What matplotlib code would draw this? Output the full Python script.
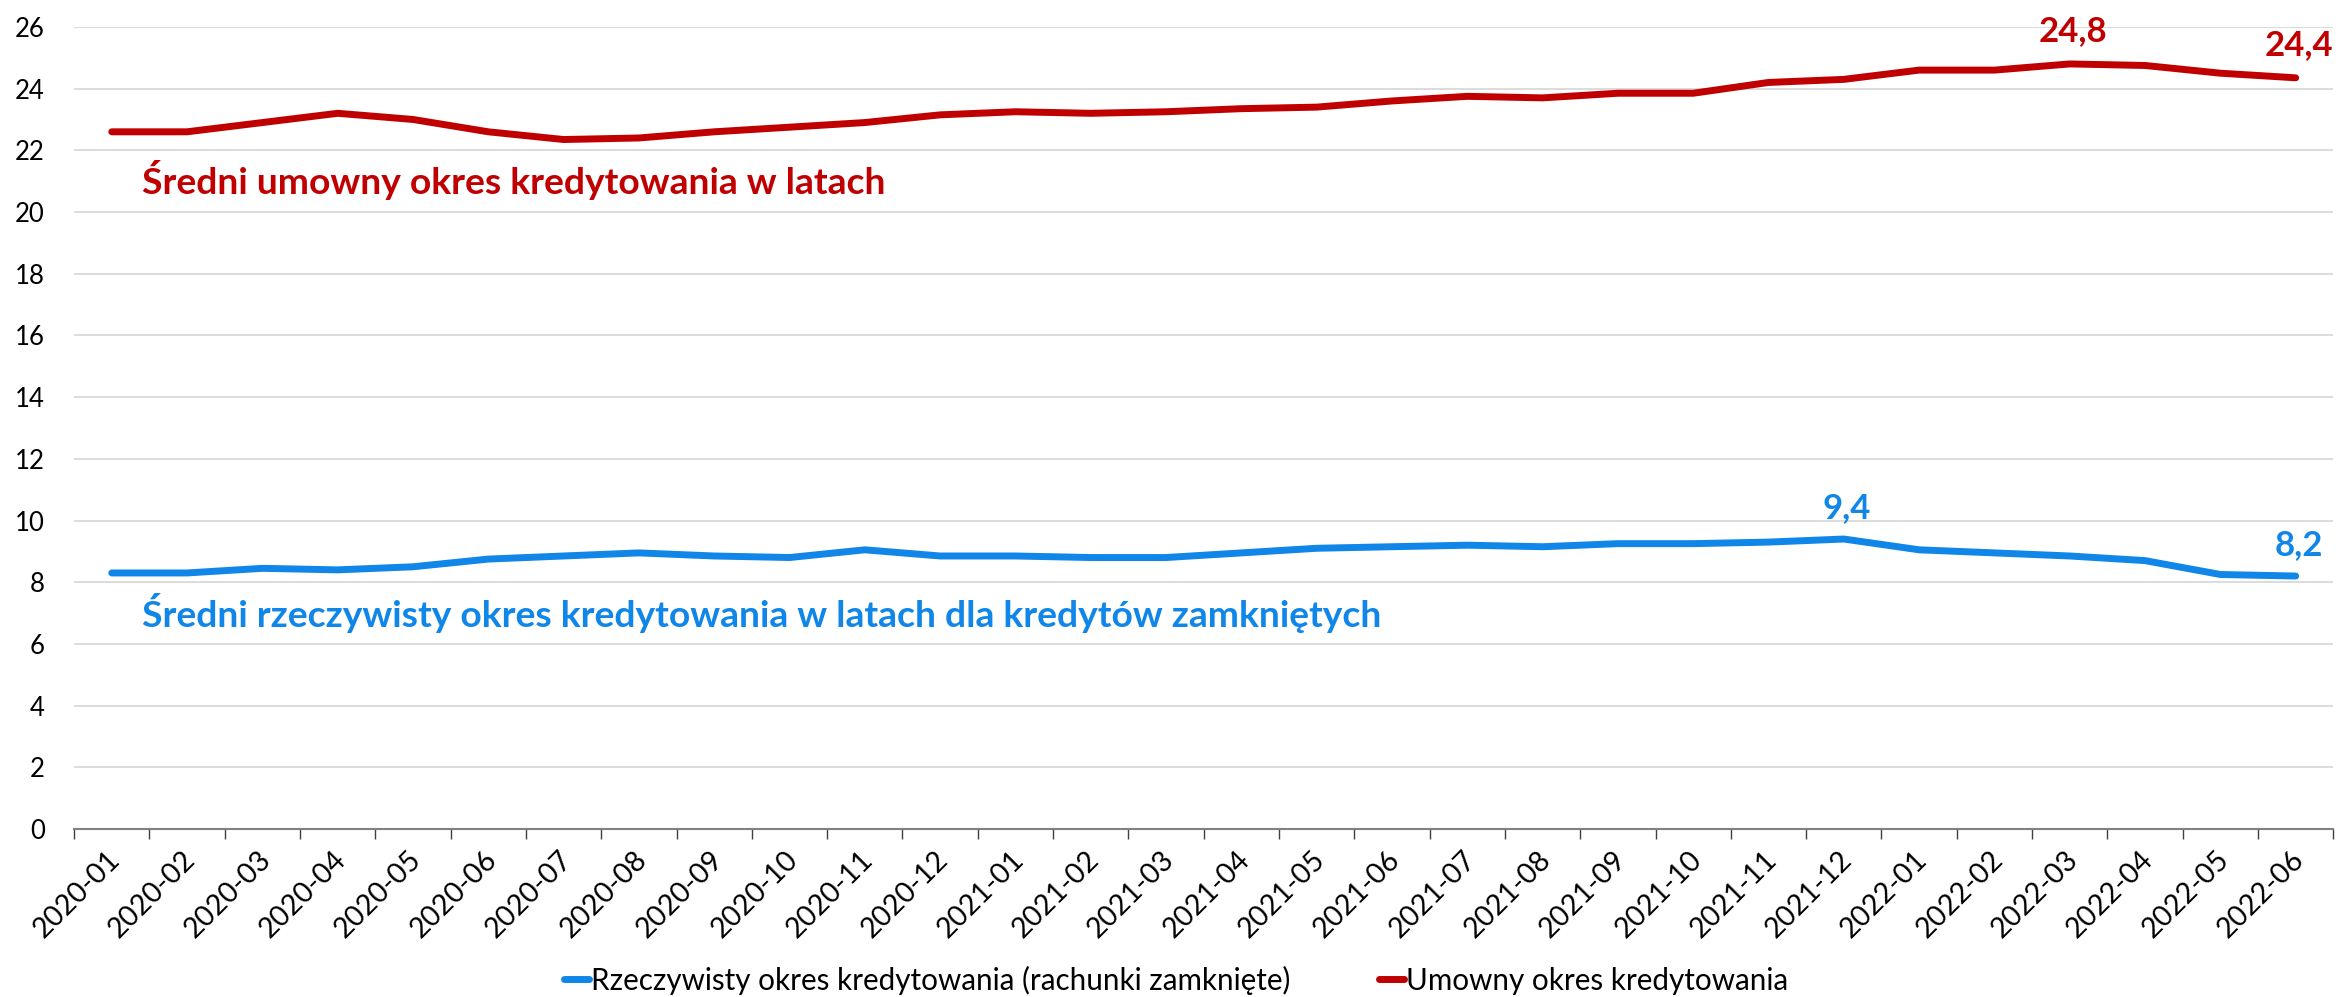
import matplotlib
matplotlib.use("Agg")
import matplotlib.pyplot as plt
import matplotlib.transforms as mtransforms
from matplotlib.ticker import FixedLocator, MultipleLocator

plt.rcParams['font.family'] = ['Lato', 'DejaVu Sans']

# Data
months = ['2020-01', '2020-02', '2020-03', '2020-04', '2020-05', '2020-06',
          '2020-07', '2020-08', '2020-09', '2020-10', '2020-11', '2020-12',
          '2021-01', '2021-02', '2021-03', '2021-04', '2021-05', '2021-06',
          '2021-07', '2021-08', '2021-09', '2021-10', '2021-11', '2021-12',
          '2022-01', '2022-02', '2022-03', '2022-04', '2022-05', '2022-06']

actual = [8.3, 8.3, 8.45, 8.4, 8.5, 8.75, 8.85, 8.95, 8.85, 8.8, 9.05, 8.85,
          8.85, 8.8, 8.8, 8.95, 9.1, 9.15, 9.2, 9.15, 9.25, 9.25, 9.3, 9.4,
          9.05, 8.95, 8.85, 8.7, 8.25, 8.2]

contract = [22.6, 22.6, 22.9, 23.2, 23.0, 22.6, 22.35, 22.4, 22.6, 22.75, 22.9, 23.15,
            23.25, 23.2, 23.25, 23.35, 23.4, 23.6, 23.75, 23.7, 23.85, 23.85, 24.2, 24.3,
            24.6, 24.6, 24.8, 24.75, 24.5, 24.35]

# (index, text) of value labels
contract_labels = [(26, '24,8'), (29, '24,4')]
actual_labels = [(23, '9,4'), (29, '8,2')]

RED = '#C00000'
BLUE = '#0F86E8'

fig = plt.figure(figsize=(23.38, 9.97), dpi=100)
ax = fig.add_axes([0.0317, 0.1685, 0.9663, 0.8045])

x = list(range(len(months)))
ax.plot(x, actual, color=BLUE, lw=5, solid_capstyle='round',
        label='Rzeczywisty okres kredytowania (rachunki zamknięte)')
ax.plot(x, contract, color=RED, lw=5, solid_capstyle='round',
        label='Umowny okres kredytowania')

for i, txt in contract_labels:
    ax.annotate(txt, (i, contract[i]), xytext=(2, 12), textcoords='offset points',
                ha='center', va='bottom', color=RED, fontsize=25, fontweight='bold')
for i, txt in actual_labels:
    ax.annotate(txt, (i, actual[i]), xytext=(2, 11), textcoords='offset points',
                ha='center', va='bottom', color=BLUE, fontsize=25, fontweight='bold')

ax.text(0.4, 21.05, 'Średni umowny okres kredytowania w latach', color=RED,
        fontsize=26.8, fontweight='bold', va='center', ha='left')
ax.text(0.4, 7.0, 'Średni rzeczywisty okres kredytowania w latach dla kredytów zamkniętych',
        color=BLUE, fontsize=26.8, fontweight='bold', va='center', ha='left')

ax.set_xlim(-0.5, len(months) - 0.5)
ax.set_ylim(0, 26)
ax.yaxis.set_major_locator(MultipleLocator(2))
ax.grid(axis='y', color='#D9D9D9', lw=1.3)
ax.set_axisbelow(True)

ax.set_xticks(x)
ax.set_xticklabels(months, rotation=45, ha='right', rotation_mode='anchor')
ax.xaxis.set_minor_locator(FixedLocator([i - 0.5 for i in range(len(months) + 1)]))
ax.tick_params(axis='x', which='major', length=0, labelsize=20.5, pad=12.5)
ax.tick_params(axis='x', which='minor', length=7, width=1, color='#404040')
ax.tick_params(axis='y', length=0, labelsize=18.5, pad=21)

# nudge rotated labels a little left, like the original
shift = mtransforms.ScaledTranslation(-0.05, 0, fig.dpi_scale_trans)
for lab in ax.get_xticklabels():
    lab.set_transform(lab.get_transform() + shift)

for s in ['top', 'right', 'left']:
    ax.spines[s].set_visible(False)
ax.spines['bottom'].set_color('#808080')
ax.spines['bottom'].set_linewidth(1.5)

fig.legend(loc='center', bbox_to_anchor=(0.503, 0.017), ncol=2, frameon=False,
           fontsize=21.3, handlelength=0.85, handletextpad=0.05, columnspacing=3.0,
           borderpad=0)

fig.savefig('out.png', dpi=100)
